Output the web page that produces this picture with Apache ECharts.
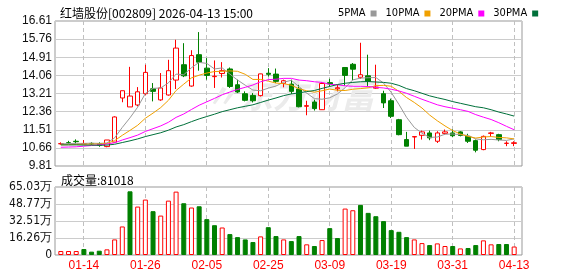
<!DOCTYPE html>
<html><head><meta charset="utf-8">
<script src="https://cdn.jsdelivr.net/npm/echarts@6/dist/echarts.min.js"></script>
<style>html,body{margin:0;padding:0;background:#fff}#c{width:578px;height:276px}</style>
</head><body><div id="c"></div>
<script>
const dates = ['01-09','01-12','01-13','01-14','01-15','01-16','01-19','01-20','01-21','01-22','01-23','01-26','01-27','01-28','01-29','01-30','02-02','02-03','02-04','02-05','02-06','02-09','02-10','02-11','02-12','02-13','02-24','02-25','02-26','02-27','03-02','03-03','03-04','03-05','03-06','03-09','03-10','03-11','03-12','03-13','03-16','03-17','03-18','03-19','03-20','03-23','03-24','03-25','03-26','03-27','03-30','03-31','04-01','04-02','04-03','04-07','04-08','04-09','04-10','04-13'];
const opens  = [10.85,10.90,10.97,10.85,10.87,10.86,10.72,10.93,13.00,12.58,12.67,13.20,13.43,12.91,13.14,13.84,14.56,13.56,15.03,14.40,14.00,14.15,14.36,13.62,13.20,13.12,13.11,14.16,14.12,13.68,13.65,13.42,12.61,12.81,12.45,13.72,13.43,14.43,14.58,13.97,14.04,13.46,13.20,12.87,11.98,11.05,11.17,11.25,11.36,10.97,11.34,11.36,11.41,11.20,11.00,10.58,11.34,11.28,10.87,10.87];
const closes = [10.86,10.89,10.95,10.86,10.85,10.78,11.03,12.11,13.34,13.09,13.29,14.20,13.31,13.47,14.28,15.34,14.04,14.99,14.68,14.06,14.02,14.28,13.54,13.28,12.89,12.87,14.13,14.11,13.78,13.81,13.31,12.59,12.64,12.50,13.68,13.66,13.48,14.06,14.35,14.09,13.78,13.51,12.77,12.14,11.28,10.74,11.19,11.41,11.13,11.36,11.41,11.23,11.24,10.97,10.55,11.20,11.36,11.05,10.88,10.90];
const lows   = [10.81,10.85,10.86,10.85,10.81,10.71,10.69,10.93,12.80,12.58,12.61,13.12,12.84,12.87,13.11,13.42,13.98,13.53,14.28,13.86,13.47,13.96,13.47,13.23,12.84,12.79,13.07,14.00,13.70,13.50,13.19,12.56,12.19,12.41,12.44,13.54,13.31,13.57,13.83,13.90,13.54,13.43,12.53,12.06,11.25,10.74,10.61,11.05,11.02,10.89,11.28,11.16,11.20,10.89,10.45,10.55,11.18,10.97,10.74,10.74];
const highs  = [10.92,10.99,11.06,11.03,10.92,10.92,11.03,12.14,13.34,14.46,13.51,14.56,13.70,14.17,14.79,15.73,15.57,15.24,16.09,14.87,14.76,14.68,14.43,13.86,13.31,13.23,14.14,14.40,14.38,13.86,13.86,13.62,12.87,12.92,13.75,13.90,13.62,14.45,14.64,15.59,15.03,14.56,13.34,12.97,12.02,11.41,11.20,11.47,11.47,11.44,11.52,11.52,11.44,11.32,11.05,11.24,11.41,11.32,10.97,10.97];
const volumes = [3.8,3.8,3.8,5.7,3.2,4.1,5.4,14.9,27.3,60.9,46.3,53.0,41.9,37.7,52.0,60.6,49.5,45.4,46.6,34.3,28.5,26.3,20.0,17.1,14.9,12.4,17.8,26.6,18.1,14.9,13.3,18.1,10.2,8.6,14.3,25.7,16.2,44.4,42.8,47.9,40.3,37.1,32.4,23.8,22.2,17.1,14.9,11.4,9.5,11.1,8.6,8.6,6.3,6.7,9.5,14.0,10.2,10.5,10.5,8.1018];
const ma5  = [10.85,10.86,10.87,10.87,10.88,10.87,10.89,11.13,11.62,12.07,12.57,13.21,13.45,13.47,13.71,14.12,14.09,14.42,14.67,14.62,14.36,14.41,14.12,13.84,13.60,13.37,13.34,13.46,13.56,13.74,13.83,13.53,13.23,12.97,12.94,13.01,13.19,13.48,13.85,13.93,13.95,13.96,13.70,13.26,12.70,12.09,11.62,11.35,11.15,11.17,11.30,11.31,11.28,11.24,11.08,11.04,11.06,11.03,11.01,11.08];
const ma10 = [10.80,10.81,10.82,10.83,10.84,10.84,10.87,11.00,11.25,11.48,11.72,12.05,12.29,12.55,12.89,13.35,13.65,13.94,14.07,14.17,14.24,14.25,14.27,14.25,14.11,13.87,13.87,13.79,13.70,13.67,13.60,13.43,13.34,13.27,13.34,13.42,13.36,13.35,13.41,13.44,13.48,13.58,13.59,13.55,13.31,13.02,12.79,12.53,12.20,11.93,11.69,11.47,11.31,11.20,11.12,11.17,11.19,11.15,11.13,11.08];
const ma20 = [10.69,10.70,10.71,10.74,10.77,10.80,10.84,10.90,11.03,11.14,11.26,11.43,11.56,11.69,11.86,12.09,12.25,12.46,12.66,12.82,12.98,13.15,13.28,13.40,13.50,13.61,13.76,13.86,13.88,13.92,13.92,13.84,13.81,13.76,13.73,13.64,13.62,13.57,13.55,13.55,13.54,13.50,13.47,13.41,13.33,13.22,13.08,12.94,12.81,12.68,12.59,12.52,12.45,12.37,12.22,12.10,11.99,11.84,11.67,11.51];
const ma30 = [10.80,10.80,10.80,10.79,10.79,10.78,10.79,10.83,10.91,10.99,11.08,11.19,11.28,11.37,11.49,11.64,11.75,11.89,12.02,12.13,12.24,12.36,12.45,12.54,12.61,12.68,12.79,12.90,13.00,13.11,13.19,13.24,13.30,13.35,13.45,13.54,13.63,13.69,13.73,13.76,13.77,13.75,13.73,13.69,13.59,13.44,13.34,13.22,13.10,13.01,12.93,12.83,12.75,12.67,12.59,12.54,12.45,12.34,12.25,12.15];
const priceTicks = [9.81,10.66,11.51,12.36,13.21,14.06,14.91,15.76,16.61];
const volTicks = [0,16.2575,32.515,48.7725,65.03];
const volTickLabels = ['0','16.26万','32.51万','48.77万','65.03万'];
const dateLabels = ['01-14','01-26','02-05','02-25','03-09','03-19','03-31','04-13'];
const titleText = '红墙股份[002809] 2026-04-13 15:00';
const maNames = ['5PMA','10PMA','20PMA','30PMA'];

const RED = '#ff0000', GREEN = '#008000';
const maColors = ['#999999','#f0a000','#ff00ff','#00703a'];
const candleData = opens.map((o, i) => [o, closes[i], lows[i], highs[i]]);
const volData = volumes.map((v, i) => {
  const up = i === 0 || closes[i] >= closes[i - 1];
  return { value: v, itemStyle: up ? { color: '#ffffff', borderColor: RED, borderWidth: 1 } : { color: GREEN, borderColor: GREEN, borderWidth: 1 } };
});
const showDate = (idx) => dateLabels.indexOf(dates[idx]) >= 0;
const lastVol = Math.round(volumes[volumes.length - 1] * 10000);
const dateIdx = dateLabels.map(d => dates.indexOf(d));

const L = 57, R = 60;
const mainTop = 21, mainH = 145, volTop = 187, volH = 68;

const chart = echarts.init(document.getElementById('c'), null, { renderer: 'canvas' });
const numFont = "'Liberation Sans', Arial, sans-serif";
const narrowFont = "'Liberation Sans Narrow', 'DejaVu Sans Condensed', 'Liberation Sans', sans-serif";

chart.setOption({
  animation: false,
  backgroundColor: '#ffffff',
  title: [
    { text: titleText, left: 55, top: 2, textStyle: { fontSize: 12, fontWeight: 'normal', color: '#000', fontFamily: "'Noto Sans CJK SC', sans-serif" } },
    { text: '成交量:' + lastVol, left: 56, top: 169, textStyle: { fontSize: 12, fontWeight: 'normal', color: '#000', fontFamily: "'Noto Sans CJK SC', sans-serif" } }
  ],
  legend: {
    data: maNames.map((n, i) => ({ name: n, icon: 'rect', itemStyle: { color: maColors[i] } })),
    left: 333, top: 3, align: 'right', itemWidth: 6, itemHeight: 6, itemGap: 9,
    textStyle: { fontSize: 11, color: '#000', fontFamily: narrowFont }
  },
  grid: [
    { left: L, right: R, top: mainTop, height: mainH },
    { left: L, right: R, top: volTop, height: volH },
    { left: 55, right: 56, top: mainTop, height: mainH, show: true, borderColor: '#999', borderWidth: 1, backgroundColor: 'rgba(0,0,0,0)' },
    { left: 55, right: 56, top: volTop, height: volH, show: true, borderColor: '#999', borderWidth: 1, backgroundColor: 'rgba(0,0,0,0)' }
  ],
  xAxis: [
    { type: 'category', gridIndex: 0, data: dates,
      axisLine: { show: false }, axisTick: { show: false }, axisLabel: { show: false },
      splitLine: { show: false } },
    { type: 'category', gridIndex: 1, data: dates,
      axisLine: { show: false }, axisTick: { show: false },
      axisLabel: { show: true, interval: showDate, color: RED, fontSize: 12, margin: 5, fontFamily: numFont },
      splitLine: { show: false } },
    { type: 'value', gridIndex: 2, min: 0, max: 1, show: false },
    { type: 'value', gridIndex: 3, min: 0, max: 1, show: false }
  ],
  yAxis: [
    { type: 'value', gridIndex: 0, min: 9.81, max: 16.61, show: false },
    { type: 'value', gridIndex: 1, min: 0, max: 65.03, show: false },
    { type: 'value', gridIndex: 2, min: 9.81, max: 16.61,
      axisLine: { show: false }, axisTick: { show: false, customValues: priceTicks },
      axisLabel: { customValues: priceTicks, formatter: v => v.toFixed(2), color: '#111', fontSize: 12, margin: 3, fontFamily: numFont },
      splitLine: { show: true, lineStyle: { color: '#cccccc', width: 1 } } },
    { type: 'value', gridIndex: 3, min: 0, max: 65.03,
      axisLine: { show: false }, axisTick: { show: false, customValues: volTicks },
      axisLabel: { customValues: volTicks, formatter: (v) => { const k = volTicks.findIndex(t => Math.abs(t - v) < 1e-6); return k >= 0 ? volTickLabels[k] : ''; }, color: '#111', fontSize: 12, margin: 3, fontFamily: narrowFont },
      splitLine: { show: true, lineStyle: { color: '#cccccc', width: 1 } } }
  ],
  series: [
    { name: 'K', type: 'candlestick', xAxisIndex: 0, yAxisIndex: 0, data: candleData, barWidth: 5, z: 5,
      itemStyle: { color: '#ffffff', color0: GREEN, borderColor: RED, borderColor0: GREEN, borderWidth: 1 } },
    { name: maNames[0], type: 'line', xAxisIndex: 0, yAxisIndex: 0, data: ma5, showSymbol: false, symbol: 'none', z: 6, lineStyle: { width: 1, color: maColors[0] }, itemStyle: { color: maColors[0] } },
    { name: maNames[1], type: 'line', xAxisIndex: 0, yAxisIndex: 0, data: ma10, showSymbol: false, symbol: 'none', z: 6, lineStyle: { width: 1, color: maColors[1] }, itemStyle: { color: maColors[1] } },
    { name: maNames[2], type: 'line', xAxisIndex: 0, yAxisIndex: 0, data: ma20, showSymbol: false, symbol: 'none', z: 6, lineStyle: { width: 1, color: maColors[2] }, itemStyle: { color: maColors[2] } },
    { name: maNames[3], type: 'line', xAxisIndex: 0, yAxisIndex: 0, data: ma30, showSymbol: false, symbol: 'none', z: 6, lineStyle: { width: 1, color: maColors[3] }, itemStyle: { color: maColors[3] } },
    { name: 'VOL', type: 'bar', xAxisIndex: 1, yAxisIndex: 1, data: volData, barWidth: 5, z: 5 }
  ]
});

// vertical dashed date gridlines and watermark, positioned through the library's own axes
const yMainTop = chart.convertToPixel({ yAxisIndex: 0 }, 16.61);
const yMainBot = chart.convertToPixel({ yAxisIndex: 0 }, 9.81);
const yVolTop = chart.convertToPixel({ yAxisIndex: 1 }, 65.03);
const yVolBot = chart.convertToPixel({ yAxisIndex: 1 }, 0);
const segs = [];
for (let y = 0; y < 1; y++) {}
const vg = [{
  id: 'wm', type: 'text', left: 205, top: 78, z: 3, silent: true,
  style: { text: '〃东方财富', fontSize: 34, fontWeight: 'bold', fontStyle: 'italic', fill: '#ebebeb', fontFamily: "'Noto Sans CJK SC', sans-serif" }
}];
dateIdx.forEach((k, n) => {
  const x = Math.floor(chart.convertToPixel({ xAxisIndex: 0 }, k)) + 0.5;
  [[yMainTop, yMainBot], [yVolTop, yVolBot]].forEach((pair, p) => {
    const children = [];
    for (let y = pair[0]; y < pair[1]; y += 7) {
      children.push({ type: 'rect', shape: { x: x - 0.5, y: y, width: 1, height: Math.min(4, pair[1] - y) }, style: { fill: '#c0c0c0' } });
    }
    vg.push({ id: 'vg' + n + '_' + p, type: 'group', z: 4, silent: true, children: children });
  });
});
chart.setOption({ graphic: vg });
</script></body></html>
